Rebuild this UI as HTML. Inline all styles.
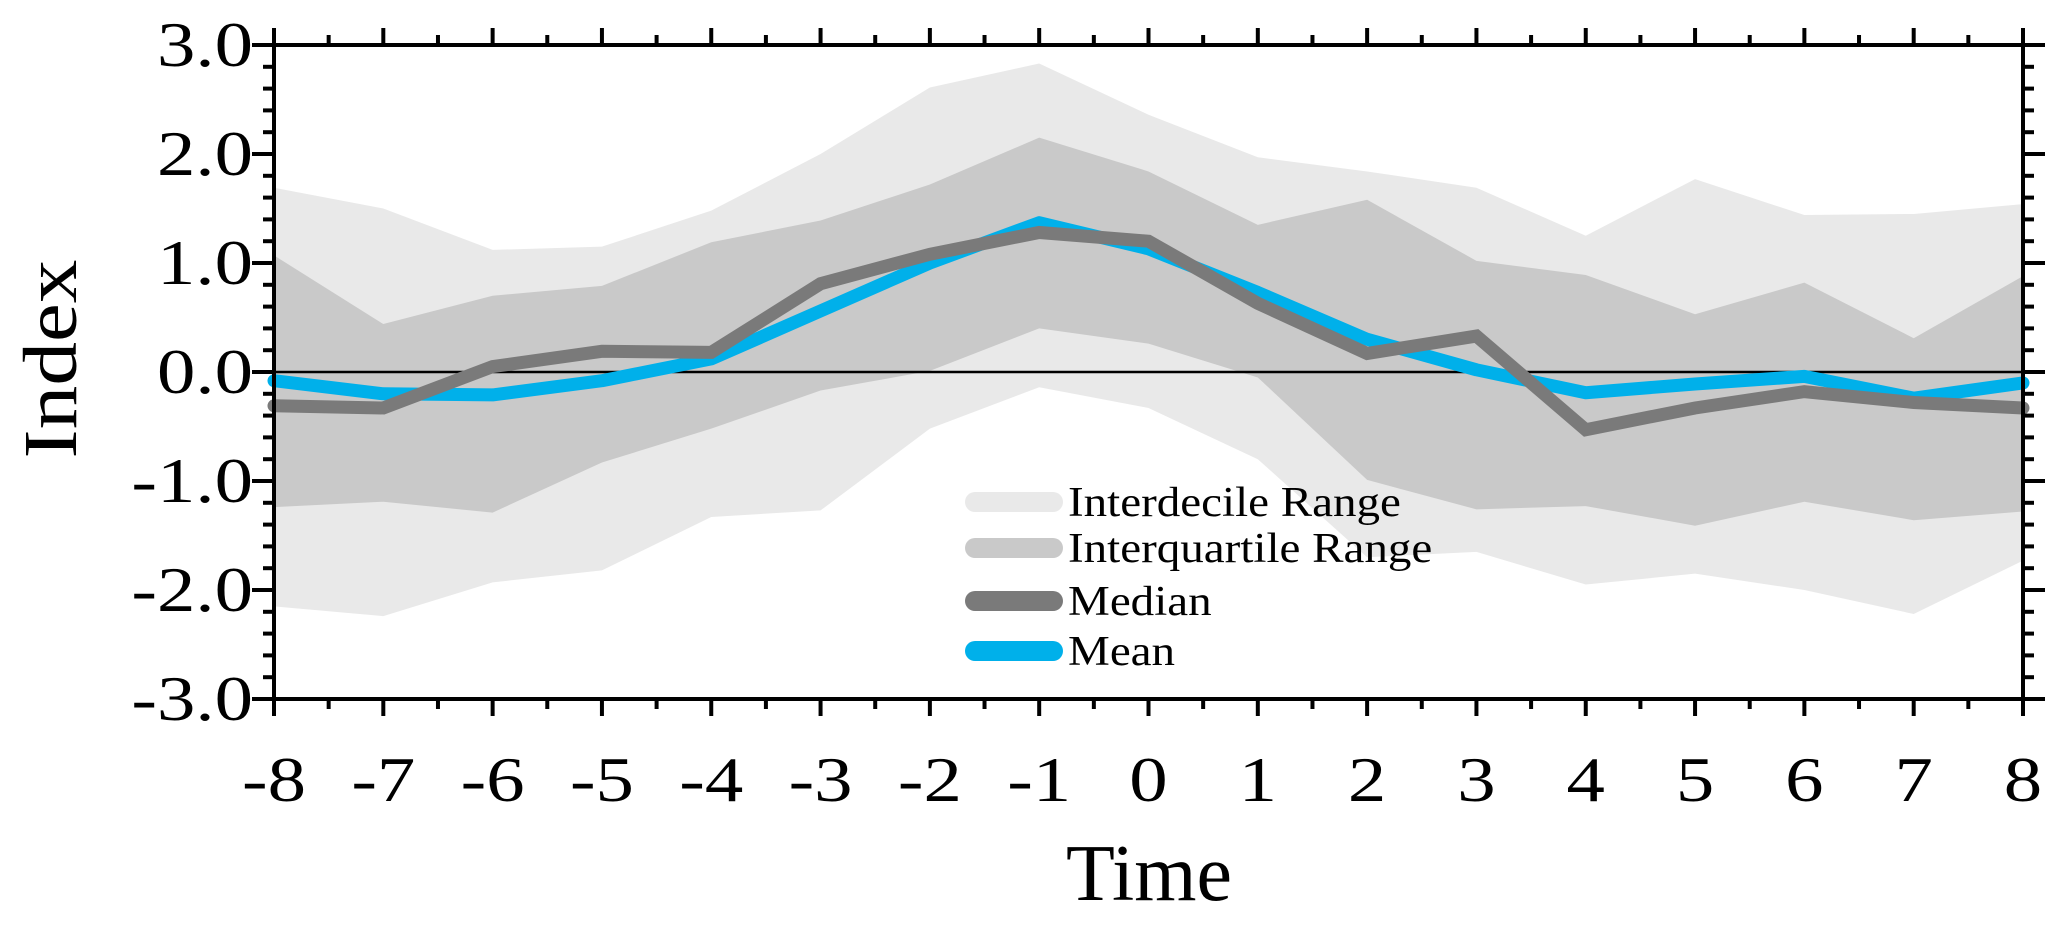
<!DOCTYPE html>
<html><head><meta charset="utf-8"><style>
html,body{margin:0;padding:0;background:#fff;}
svg{display:block;font-family:"Liberation Serif",serif;}
</style></head><body>
<svg id="chart" width="2067" height="926" viewBox="0 0 2067 926" xmlns="http://www.w3.org/2000/svg">
<g id="bands"></g>
<g id="lines"></g>
<g id="axes"></g>
<g id="legend"></g>
<text transform="translate(1149,900) scale(1.0,1)" font-size="80" text-anchor="middle">Time</text>
<text transform="translate(76,359) rotate(-90) scale(1.15,1)" font-size="76" text-anchor="middle">Index</text>
</svg>
<script>
const times = [-8,-7,-6,-5,-4,-3,-2,-1,0,1,2,3,4,5,6,7,8];
const decileHigh = [1.69,1.5,1.12,1.15,1.48,2.0,2.61,2.83,2.36,1.97,1.84,1.69,1.25,1.77,1.44,1.45,1.54];
const decileLow = [-2.15,-2.24,-1.93,-1.82,-1.33,-1.27,-0.52,-0.14,-0.33,-0.8,-1.7,-1.65,-1.95,-1.85,-2.0,-2.22,-1.73];
const quartileHigh = [1.07,0.44,0.7,0.79,1.19,1.39,1.72,2.15,1.84,1.35,1.58,1.02,0.89,0.53,0.82,0.31,0.88];
const quartileLow = [-1.24,-1.19,-1.29,-0.83,-0.52,-0.17,0.01,0.40,0.26,-0.05,-0.99,-1.26,-1.23,-1.41,-1.19,-1.36,-1.28];
const medianVals = [-0.31,-0.33,0.05,0.19,0.18,0.81,1.08,1.28,1.20,0.63,0.17,0.33,-0.53,-0.33,-0.18,-0.28,-0.33];
const meanVals = [-0.08,-0.2,-0.21,-0.08,0.12,0.56,1.0,1.37,1.13,0.73,0.3,0.02,-0.19,-0.11,-0.04,-0.24,-0.1];
const yTickLabels = ["-3.0","-2.0","-1.0","0.0","1.0","2.0","3.0"];
const legendLabels = ["Interdecile Range","Interquartile Range","Median","Mean"];

const NS="http://www.w3.org/2000/svg";
const L=274,R=2023,T=45,B=699;
const xMin=-8,xMax=8,yMin=-3,yMax=3;
function sx(v){return L+(v-xMin)/(xMax-xMin)*(R-L);}
function sy(v){return B-(v-yMin)/(yMax-yMin)*(B-T);}
function mk(tag,attrs,parent){const e=document.createElementNS(NS,tag);for(const k in attrs)e.setAttribute(k,attrs[k]);parent.appendChild(e);return e;}
function band(hi,lo){let p=times.map((t,i)=>sx(t)+","+sy(hi[i]));for(let i=times.length-1;i>=0;i--)p.push(sx(times[i])+","+sy(lo[i]));return p.join(" ");}
const bands=document.getElementById('bands');
let b1=mk('polygon',{points:band(decileHigh,decileLow),fill:'#e9e9e9'},bands);


let b2=mk('polygon',{points:band(quartileHigh,quartileLow),fill:'#c9c9c9'},bands);


const lines=document.getElementById('lines');
let z=mk('line',{x1:L,x2:R,y1:sy(0),y2:sy(0),stroke:'#000','stroke-width':2.5},lines);


function pl(vals){return times.map((t,i)=>sx(t)+","+sy(vals[i])).join(" ");}
let mn=mk('polyline',{points:pl(meanVals),fill:'none',stroke:'#00b0ea','stroke-width':13,'stroke-linejoin':'round','stroke-linecap':'round'},lines);


let md=mk('polyline',{points:pl(medianVals),fill:'none',stroke:'#7a7a7a','stroke-width':13,'stroke-linejoin':'miter','stroke-linecap':'round'},lines);



const axes=document.getElementById('axes');
let fr=mk('rect',{x:L,y:T,width:R-L,height:B-T,fill:'none',stroke:'#000','stroke-width':4},axes);


for(let v=xMin;v<=xMax;v+=0.5){
  const major=Number.isInteger(v);const len=major?17:10;const x=sx(v);
  mk('line',{x1:x,x2:x,y1:B,y2:B+len,stroke:'#000','stroke-width':4},axes);
  mk('line',{x1:x,x2:x,y1:T,y2:T-len,stroke:'#000','stroke-width':4},axes);
}
times.forEach(t=>{
  const tx=mk('text',{transform:'translate('+sx(t)+',801) scale(1.2,1)','font-size':64,'text-anchor':'middle'},axes);
  tx.textContent=String(t);
  
  
});
for(let k=0;k<=30;k++){
  const v=yMin+k*0.2;const major=k%5===0;const len=major?22:11;const y=sy(v);
  mk('line',{x1:L-len,x2:L,y1:y,y2:y,stroke:'#000','stroke-width':4},axes);
  mk('line',{x1:R,x2:R+len,y1:y,y2:y,stroke:'#000','stroke-width':4},axes);
}
yTickLabels.forEach((s,i)=>{
  const tx=mk('text',{transform:'translate(253,'+(sy(parseFloat(s))+21)+') scale(1.2,1)','font-size':64,'text-anchor':'end'},axes);
  tx.textContent=s;
  
  
});

const lg=document.getElementById('legend');
const lgColors=['#e9e9e9','#c9c9c9','#7a7a7a','#00b0ea'];
const lgY=[502,548,601,651];
legendLabels.forEach((s,i)=>{
  const ln=mk('line',{x1:975,x2:1053,y1:lgY[i],y2:lgY[i],stroke:lgColors[i],'stroke-width':20,'stroke-linecap':'round'},lg);
  
  
  const tx=mk('text',{transform:'translate(1068,'+(lgY[i]+14)+') scale(1.12,1)','font-size':42},lg);
  tx.textContent=s;
  
  
});
</script>
</body></html>
